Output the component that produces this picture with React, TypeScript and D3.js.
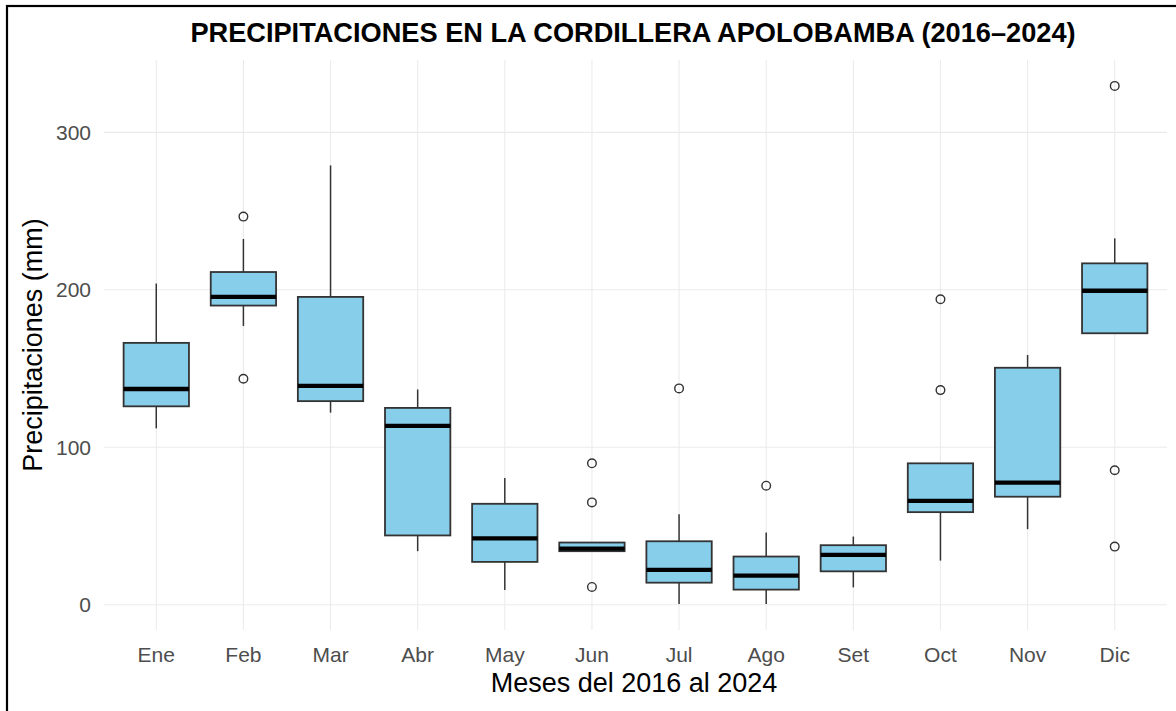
import React from "react";
import * as d3 from "d3";

const months = ["Ene", "Feb", "Mar", "Abr", "May", "Jun", "Jul", "Ago", "Set", "Oct", "Nov", "Dic"];
const whiskerLow = [112, 177, 122, 34, 9.4, 34, 0.4, 0.4, 11, 28, 48, 172.4];
const q1 = [126, 190, 129.3, 44, 27.2, 34, 14, 9.6, 21.2, 58.8, 68.6, 172.4];
const medians = [137, 195.5, 139, 113.6, 42.2, 35.6, 22.1, 18.5, 31.7, 66, 77.5, 199.4];
const q3 = [166.3, 211.3, 195.5, 125, 64.1, 39.5, 40.3, 30.6, 37.8, 89.8, 150.5, 216.8];
const whiskerHigh = [204, 232.3, 279, 136.7, 80.5, 39.5, 57.5, 45.9, 43.3, 89.8, 158.6, 232.7];
const outlierMonths = ["Feb", "Feb", "Jun", "Jun", "Jun", "Jul", "Ago", "Oct", "Oct", "Dic", "Dic", "Dic"];
const outlierValues = [246.5, 143.5, 89.8, 65, 11.3, 137.4, 75.6, 194, 136.3, 329.5, 85.4, 36.9];
const yTicks = [0, 100, 200, 300];

const W = 1176;
const H = 711;
const panel = { left: 104, right: 1167, top: 60, bottom: 630 };

export default function App() {
  const all = [...whiskerLow, ...whiskerHigh, ...outlierValues];
  const lo = d3.min(all) as number;
  const hi = d3.max(all) as number;
  const pad = (hi - lo) * 0.05;
  const y = d3.scaleLinear().domain([lo - pad, hi + pad]).range([panel.bottom, panel.top]);
  const x = d3.scalePoint<string>().domain(months).range([panel.left, panel.right]).padding(0.6);
  const bw = x.step() * 0.75;
  const font = "'Liberation Sans', Arial, sans-serif";
  const stroke = "#333333";

  return (
    <svg width={W} height={H} style={{ position: "absolute", left: 0, top: 0, background: "#fff" }} fontFamily={font}>
      <rect x={0} y={0} width={W} height={H} fill="#fff" />
      {yTicks.map((t) => (
        <line key={"gy" + t} x1={panel.left} x2={panel.right} y1={y(t)} y2={y(t)} stroke="#EBEBEB" strokeWidth={1.1} />
      ))}
      {months.map((m) => (
        <line key={"gx" + m} x1={x(m)} x2={x(m)} y1={panel.top} y2={panel.bottom} stroke="#EBEBEB" strokeWidth={1.1} />
      ))}
      {months.map((m, i) => {
        const cx = x(m) as number;
        return (
          <g key={"b" + m}>
            <line x1={cx} x2={cx} y1={y(q3[i])} y2={y(whiskerHigh[i])} stroke={stroke} strokeWidth={1.5} />
            <line x1={cx} x2={cx} y1={y(q1[i])} y2={y(whiskerLow[i])} stroke={stroke} strokeWidth={1.5} />
            <rect x={cx - bw / 2} y={y(q3[i])} width={bw} height={y(q1[i]) - y(q3[i])} fill="#87CEEB" stroke={stroke} strokeWidth={1.8} />
            <line x1={cx - bw / 2} x2={cx + bw / 2} y1={y(medians[i])} y2={y(medians[i])} stroke="#000" strokeWidth={4.3} />
          </g>
        );
      })}
      {outlierValues.map((v, i) => (
        <circle key={"o" + i} cx={x(outlierMonths[i])} cy={y(v)} r={4.3} fill="none" stroke={stroke} strokeWidth={1.4} />
      ))}
      {yTicks.map((t) => (
        <text key={"ty" + t} x={91} y={y(t)} dy="0.36em" textAnchor="end" fontSize={21} fill="#4D4D4D">
          {t}
        </text>
      ))}
      {months.map((m) => (
        <text key={"tx" + m} x={x(m)} y={662} textAnchor="middle" fontSize={21} fill="#4D4D4D">
          {m}
        </text>
      ))}
      <text x={634} y={692} textAnchor="middle" fontSize={27} fill="#000">
        Meses del 2016 al 2024
      </text>
      <text transform={`translate(42,${(panel.top + panel.bottom) / 2}) rotate(-90)`} textAnchor="middle" fontSize={27} fill="#000">
        Precipitaciones (mm)
      </text>
      <text x={633} y={42} textAnchor="middle" fontSize={27.2} fontWeight="bold" fill="#000">
        PRECIPITACIONES EN LA CORDILLERA APOLOBAMBA (2016–2024)
      </text>
      <rect x={7} y={6} width={W + 20} height={H + 20} fill="none" stroke="#000" strokeWidth={2.2} />
    </svg>
  );
}
